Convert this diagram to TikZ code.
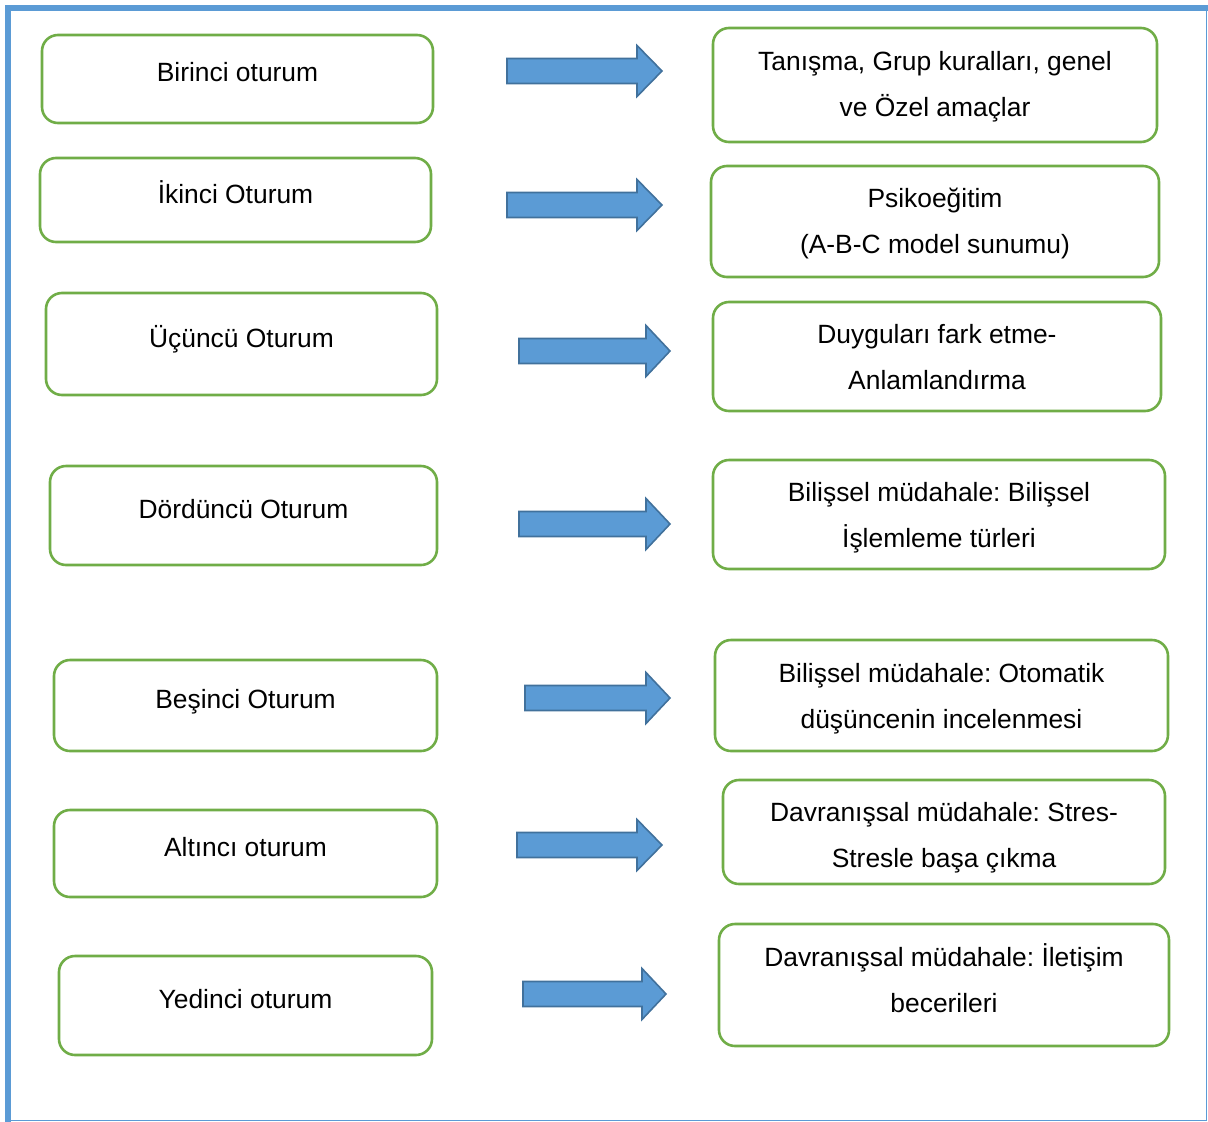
\documentclass[tikz,border=0pt]{standalone}
\usepackage{fontspec}
\setmainfont{Liberation Sans}
\frenchspacing
\definecolor{frameblue}{HTML}{5B9BD5}
\definecolor{arrowfill}{HTML}{5B9BD5}
\definecolor{arrowline}{HTML}{41719C}
\definecolor{boxgreen}{HTML}{70AD47}
\begin{document}
\begin{tikzpicture}[x=1pt,y=-1pt,
  box/.style={draw=boxgreen, line width=2.6pt, rounded corners=16pt, fill=white, inner sep=0pt},
  lbl/.style={font=\fontsize{26.4}{46}\selectfont\frenchspacing, align=center, inner sep=0pt, text height=19pt, text depth=0pt},
  blockarrow/.style={fill=arrowfill, draw=arrowline, line width=1.6pt, line join=miter}]
\useasboundingbox (0,0) rectangle (1208,1122);
% frame
\fill[frameblue] (5,5) rectangle (1208,11);
\fill[frameblue] (5,5) rectangle (11,1122);
\draw[frameblue, line width=1.5pt] (1206.5,8) -- (1206.5,1120.5) -- (8,1120.5);
% left boxes
\node[box, minimum width=391pt, minimum height=88pt]  (l1) at (237.5,79) {};
\node[box, minimum width=391pt, minimum height=84pt]  (l2) at (235.5,200) {};
\node[box, minimum width=391pt, minimum height=102pt] (l3) at (241.5,344) {};
\node[box, minimum width=387pt, minimum height=99pt]  (l4) at (243.5,515.5) {};
\node[box, minimum width=383pt, minimum height=91pt]  (l5) at (245.5,705.5) {};
\node[box, minimum width=383pt, minimum height=87pt]  (l6) at (245.5,853.5) {};
\node[box, minimum width=373pt, minimum height=99pt]  (l7) at (245.5,1005.5) {};
\node[lbl] (t1) at (237.5,72) {Birinci oturum};
\node[lbl] (t2) at (235.5,194) {İkinci Oturum};
\node[lbl] (t3) at (241.5,338) {Üçüncü Oturum};
\node[lbl] (t4) at (243.5,509) {Dördüncü Oturum};
\node[lbl] (t5) at (245.5,699) {Beşinci Oturum};
\node[lbl] (t6) at (245.5,847) {Altıncı oturum};
\node[lbl] (t7) at (245.5,999) {Yedinci oturum};
% right boxes
\node[box, minimum width=444pt, minimum height=114pt] (r1) at (935,85) {};
\node[box, minimum width=448pt, minimum height=111pt] (r2) at (935,221.5) {};
\node[box, minimum width=448pt, minimum height=109pt] (r3) at (937,356.5) {};
\node[box, minimum width=452pt, minimum height=109pt] (r4) at (939,514.5) {};
\node[box, minimum width=453pt, minimum height=111pt] (r5) at (941.5,695.5) {};
\node[box, minimum width=442pt, minimum height=104pt] (r6) at (944,832) {};
\node[box, minimum width=450pt, minimum height=122pt] (r7) at (944,985) {};
% two-line labels: anchor point sits on the middle of the last line
\node[lbl] (s1) at (935,107) {Tanışma, Grup kuralları, genel\\ve Özel amaçlar};
\node[lbl] (s2) at (935,244) {Psikoeğitim\\(A-B-C model sunumu)};
\node[lbl] (s3) at (937,380) {Duyguları fark etme-\\Anlamlandırma};
\node[lbl] (s4) at (939,538) {Bilişsel müdahale: Bilişsel\\İşlemleme türleri};
\node[lbl] (s5) at (941.5,719) {Bilişsel müdahale: Otomatik\\düşüncenin incelenmesi};
\node[lbl] (s6) at (944,858) {Davranışsal müdahale: Stres-\\Stresle başa çıkma};
\node[lbl] (s7) at (944,1003) {Davranışsal müdahale: İletişim\\becerileri};
% block arrows: start x, head x, tip x, centre y
\foreach \sx/\hx/\tx/\cy in {507/637/662/71, 507/637/662/205, 519/646/670/351, 519/646/670/524, 525/646/670/698, 517/637/662/845, 523/642/666/994}{
  \draw[blockarrow] (\sx,\cy-12.5) -- (\hx,\cy-12.5) -- (\hx,\cy-25.5) -- (\tx,\cy) -- (\hx,\cy+25.5) -- (\hx,\cy+12.5) -- (\sx,\cy+12.5) -- cycle;
}
\end{tikzpicture}
\end{document}
